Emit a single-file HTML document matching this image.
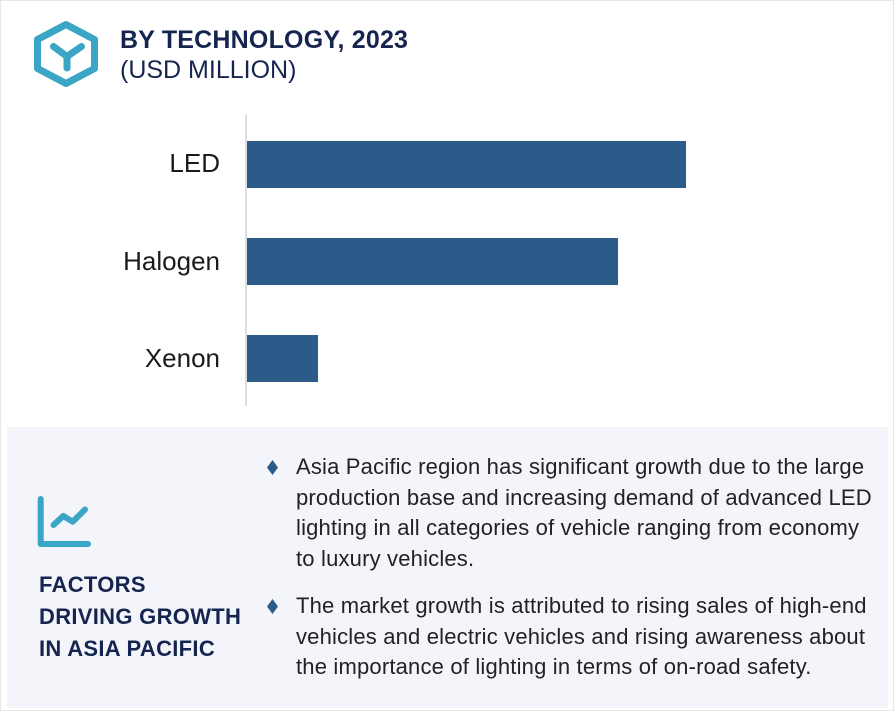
<!DOCTYPE html>
<html>
<head>
<meta charset="utf-8">
<style>
  html,body{margin:0;padding:0;background:#fff;}
  body{width:895px;height:714px;position:relative;overflow:hidden;font-family:"Liberation Sans",Arial,sans-serif;}
  .frame{position:absolute;left:0;top:0;width:892px;height:709px;border:1.5px solid #e7e7ea;}
  .abs{position:absolute;white-space:nowrap;}
  .title{left:120px;top:25px;font-size:25px;line-height:30px;font-weight:bold;color:#15254f;letter-spacing:0.2px;}
  .sub{left:120px;top:54.5px;font-size:25px;line-height:30px;color:#15254f;}
  .lbl{right:675px;font-size:26px;line-height:30px;color:#1b1b1b;text-align:right;}
  .bar{position:absolute;left:247px;background:#2c5b89;}
  .axis{position:absolute;left:245px;top:115px;width:2px;height:291px;background:#dcdce2;}
  .panel{position:absolute;left:7px;top:427px;width:881px;height:281px;background:#f4f5fa;}
  .fac{left:39px;top:569px;font-size:22px;line-height:32px;font-weight:bold;color:#15254f;letter-spacing:0.3px;}
  .txt{left:296px;font-size:22px;line-height:30.5px;color:#222;letter-spacing:0.18px;}
  .dia{position:absolute;width:11px;height:15px;}
</style>
</head>
<body>
<div class="frame"></div>

<svg class="abs" style="left:0;top:0" width="120" height="100" viewBox="0 0 120 100">
  <polygon points="66,24.5 94.5,39.5 94.5,68.5 66,83.5 37.5,68.5 37.5,39.5" fill="none" stroke="#3ba5c6" stroke-width="7" stroke-linejoin="round"/>
  <path d="M53.5,46.5 L67,56.5 L81.5,46.5 M67,56.5 L67,68" fill="none" stroke="#3ba5c6" stroke-width="7" stroke-linecap="round" stroke-linejoin="round"/>
</svg>

<div class="abs title">BY TECHNOLOGY, 2023</div>
<div class="abs sub">(USD MILLION)</div>

<div class="axis"></div>
<div class="abs lbl" style="top:148px">LED</div>
<div class="abs lbl" style="top:246px">Halogen</div>
<div class="abs lbl" style="top:343px">Xenon</div>

<div class="bar" style="top:141px;width:438.5px;height:47px"></div>
<div class="bar" style="top:238px;width:370.5px;height:46.5px"></div>
<div class="bar" style="top:335px;width:71px;height:46.5px"></div>

<div class="panel"></div>

<svg class="abs" style="left:30px;top:488px" width="70" height="65" viewBox="30 488 70 65">
  <path d="M40.7,499 L40.7,544 L88,544" fill="none" stroke="#3ba5c6" stroke-width="6" stroke-linecap="round" stroke-linejoin="round"/>
  <path d="M53.5,525 L63.3,516 L72.7,521.7 L85,509.5" fill="none" stroke="#3ba5c6" stroke-width="6" stroke-linecap="round" stroke-linejoin="round"/>
</svg>

<div class="abs fac">FACTORS<br>DRIVING GROWTH<br>IN ASIA PACIFIC</div>

<svg class="dia" style="left:267px;top:459.5px" viewBox="0 0 11 15"><polygon points="5.5,0 11,7.5 5.5,15 0,7.5" fill="#2c5b89"/></svg>
<svg class="dia" style="left:267px;top:598.5px" viewBox="0 0 11 15"><polygon points="5.5,0 11,7.5 5.5,15 0,7.5" fill="#2c5b89"/></svg>

<div class="abs txt" style="top:452px">Asia Pacific region has significant growth due to the large<br>production base and increasing demand of advanced LED<br>lighting in all categories of vehicle ranging from economy<br>to luxury vehicles.</div>
<div class="abs txt" style="top:591px">The market growth is attributed to rising sales of high-end<br>vehicles and electric vehicles and rising awareness about<br>the importance of lighting in terms of on-road safety.</div>
</body>
</html>
